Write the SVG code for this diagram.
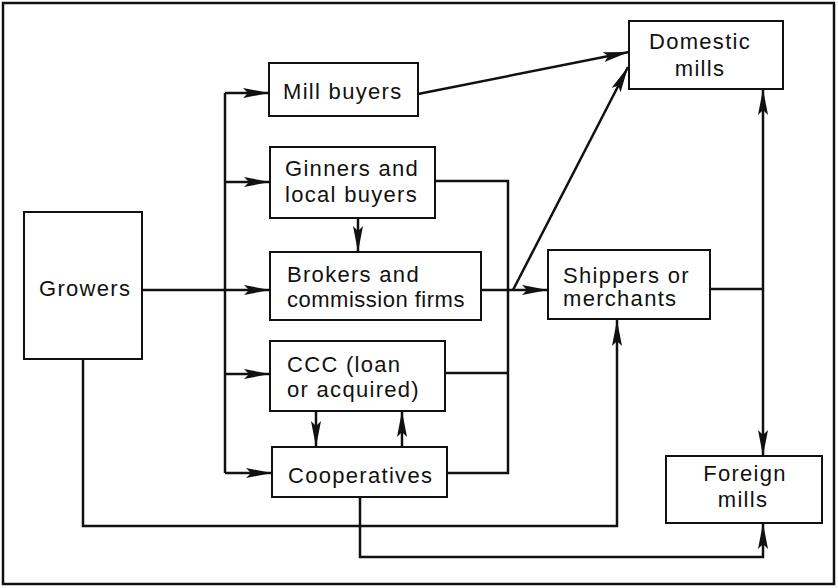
<svg xmlns="http://www.w3.org/2000/svg" width="838" height="588" viewBox="0 0 838 588">
<style>
.box{fill:#fff;stroke:#111;stroke-width:2}
.t{font-family:"Liberation Sans",Arial,sans-serif;font-size:22px;letter-spacing:1.3px;fill:#111}
.c{fill:none;stroke:#111;stroke-width:2.5}
.a{marker-end:url(#arr)}
</style>
<defs>
<marker id="arr" viewBox="0 0 26 11" refX="26" refY="5.5" markerWidth="26" markerHeight="11" orient="auto" markerUnits="userSpaceOnUse">
<path d="M0,0.5 L26,5.5 L0,10.5 L5,5.5 z" fill="#111"/>
</marker>
</defs>
<rect x="3" y="3" width="831" height="581" fill="#fff" stroke="#111" stroke-width="2.5"/>
<g id="connectors">
<path class="c a" d="M142,290 H270"/>
<path class="c" d="M225,93 V473"/>
<path class="c a" d="M225,93 H269"/>
<path class="c a" d="M225,182 H270"/>
<path class="c a" d="M225,374 H270"/>
<path class="c a" d="M225,473 H272"/>
<path class="c a" d="M358,218 V252"/>
<path class="c a" d="M316,411 V447"/>
<path class="c a" d="M402,447 V411"/>
<path class="c" d="M435,181 H508 V473 H447"/>
<path class="c" d="M445,373 H508"/>
<path class="c a" d="M481,290 H548"/>
<path class="c a" d="M513,290 L628,67"/>
<path class="c a" d="M418,94 L629,52"/>
<path class="c" d="M710,289 H763"/>
<path class="c a" d="M763,289 V89"/>
<path class="c a" d="M763,289 V456"/>
<path class="c a" d="M83,359 V526 H617 V320"/>
<path class="c a" d="M360,497 V557 H763 V523"/>
</g>
<g id="growers">
<rect class="box" x="24" y="212" width="118" height="147"/>
<text class="t" x="39" y="296">Growers</text>
</g>
<g id="mill-buyers">
<rect class="box" x="269" y="63" width="149" height="53"/>
<text class="t" x="283" y="99">Mill buyers</text>
</g>
<g id="ginners">
<rect class="box" x="270" y="147" width="165" height="71"/>
<text class="t" x="285" y="176">Ginners and</text>
<text class="t" x="285" y="202">local buyers</text>
</g>
<g id="brokers">
<rect class="box" x="270" y="252" width="211" height="68"/>
<text class="t" x="287" y="282">Brokers and</text>
<text class="t" x="287" y="307" style="letter-spacing:0.5px">commission firms</text>
</g>
<g id="ccc">
<rect class="box" x="270" y="341" width="175" height="70"/>
<text class="t" x="287" y="372">CCC (loan</text>
<text class="t" x="287" y="397">or acquired)</text>
</g>
<g id="cooperatives">
<rect class="box" x="272" y="447" width="175" height="50"/>
<text class="t" x="288" y="483">Cooperatives</text>
</g>
<g id="shippers">
<rect class="box" x="548" y="250" width="162" height="69"/>
<text class="t" x="563" y="283">Shippers or</text>
<text class="t" x="563" y="306">merchants</text>
</g>
<g id="domestic-mills">
<rect class="box" x="629" y="21" width="154" height="68"/>
<text class="t" x="700" y="49" text-anchor="middle">Domestic</text>
<text class="t" x="700" y="76" text-anchor="middle">mills</text>
</g>
<g id="foreign-mills">
<rect class="box" x="666" y="456" width="156" height="67"/>
<text class="t" x="745" y="481" text-anchor="middle">Foreign</text>
<text class="t" x="743" y="507" text-anchor="middle">mills</text>
</g>
</svg>
